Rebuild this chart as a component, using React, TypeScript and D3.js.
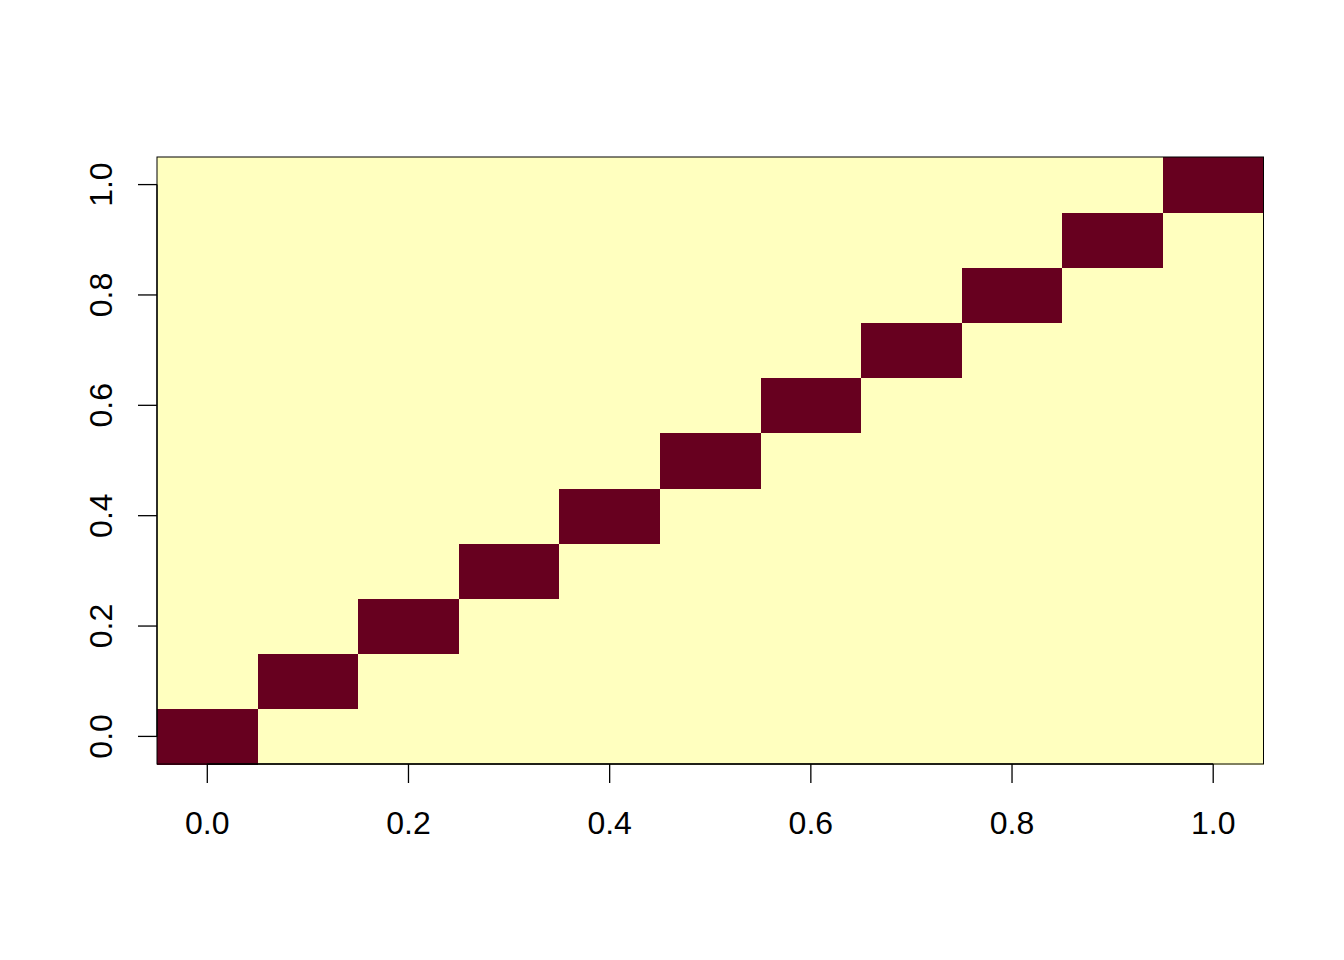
import React, { useEffect, useRef } from 'react';
import * as d3 from 'd3';

// 11x11 identity matrix on a 0..1 grid (R image())
const gridValues = [0, 0.1, 0.2, 0.3, 0.4, 0.5, 0.6, 0.7, 0.8, 0.9, 1.0];
const xTicks = [0, 0.2, 0.4, 0.6, 0.8, 1.0];
const yTicks = [0, 0.2, 0.4, 0.6, 0.8, 1.0];
const cellColors = ['#FFFFBF', '#67001F'];

const App: React.FC = () => {
  const svgRef = useRef<SVGSVGElement>(null);

  useEffect(() => {
    if (!svgRef.current) return;
    const svg = d3.select(svgRef.current);
    svg.selectAll('*').remove();

    const left = 157, right = 1263.5, top = 157, bottom = 764;
    const x = d3.scaleLinear().domain([-0.05, 1.05]).range([left, right]);
    const y = d3.scaleLinear().domain([-0.05, 1.05]).range([bottom, top]);
    const font = "'Liberation Sans', Arial, sans-serif";

    const cells: { i: number; j: number; v: number }[] = [];
    gridValues.forEach((gx, i) =>
      gridValues.forEach((gy, j) => cells.push({ i, j, v: i === j ? 1 : 0 }))
    );

    svg.append('g')
      .selectAll('rect')
      .data(cells)
      .join('rect')
      .attr('x', d => x(gridValues[d.i] - 0.05))
      .attr('y', d => y(gridValues[d.j] + 0.05))
      .attr('width', d => x(gridValues[d.i] + 0.05) - x(gridValues[d.i] - 0.05) + 0.5)
      .attr('height', d => y(gridValues[d.j] - 0.05) - y(gridValues[d.j] + 0.05) + 0.5)
      .attr('fill', d => cellColors[d.v])
      .attr('shape-rendering', 'crispEdges');

    svg.append('rect')
      .attr('x', left)
      .attr('y', top)
      .attr('width', right - left)
      .attr('height', bottom - top)
      .attr('fill', 'none')
      .attr('stroke', '#000')
      .attr('stroke-width', 1);

    // bottom axis
    const xa = svg.append('g');
    xa.selectAll('line.tick')
      .data(xTicks)
      .join('line')
      .attr('x1', d => x(d)).attr('x2', d => x(d))
      .attr('y1', bottom).attr('y2', bottom + 19)
      .attr('stroke', '#000').attr('stroke-width', 1.3);
    xa.append('line')
      .attr('x1', x(0)).attr('x2', x(1))
      .attr('y1', bottom).attr('y2', bottom)
      .attr('stroke', '#000').attr('stroke-width', 1.3);
    xa.selectAll('text')
      .data(xTicks)
      .join('text')
      .attr('x', d => x(d))
      .attr('y', 834)
      .attr('text-anchor', 'middle')
      .attr('font-family', font)
      .attr('font-size', 32)
      .text(d => d.toFixed(1));

    // left axis
    const ya = svg.append('g');
    ya.selectAll('line.tick')
      .data(yTicks)
      .join('line')
      .attr('x1', left - 19).attr('x2', left)
      .attr('y1', d => y(d)).attr('y2', d => y(d))
      .attr('stroke', '#000').attr('stroke-width', 1.3);
    ya.append('line')
      .attr('x1', left).attr('x2', left)
      .attr('y1', y(0)).attr('y2', y(1))
      .attr('stroke', '#000').attr('stroke-width', 1.3);
    ya.selectAll('text')
      .data(yTicks)
      .join('text')
      .attr('transform', d => `translate(112,${y(d)}) rotate(-90)`)
      .attr('text-anchor', 'middle')
      .attr('font-family', font)
      .attr('font-size', 32)
      .text(d => d.toFixed(1));
  }, []);

  return (
    <svg
      ref={svgRef}
      width={1344}
      height={960}
      style={{ position: 'absolute', left: 0, top: 0, background: '#fff' }}
    />
  );
};

export default App;
